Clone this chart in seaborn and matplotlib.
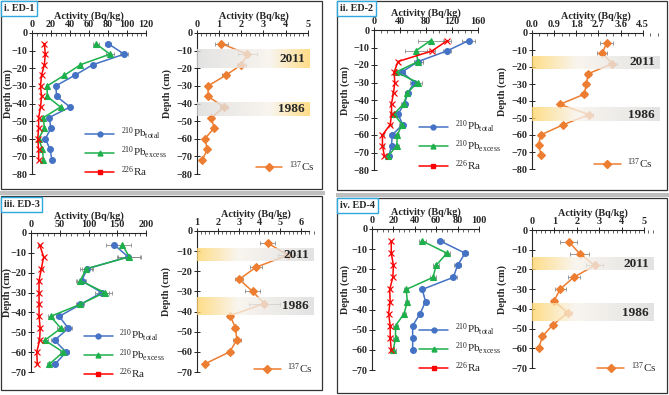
import matplotlib
matplotlib.use("Agg")
import matplotlib.pyplot as plt
import numpy as np
import seaborn as sns
from matplotlib.lines import Line2D
from matplotlib.patches import Rectangle
from matplotlib.ticker import AutoMinorLocator, MultipleLocator

# ---- data ----
depth_ed1 = [-6, -12, -18, -24, -30, -36, -42, -48, -54, -60, -66, -72]
ed1_pb_total = [80, 97, 64, 45, 25, 26, 40, 18, 20, 14, 19, 21]
ed1_pb_total_err = [3, 4, 2, 1, 1, 1, 1, 1, 1, 1, 1, 1]
ed1_pb_excess = [67, 82, 51, 34, 16, 16, 30, 12, 13, 7, 11, 12]
ed1_pb_excess_err = [3, 4, 2, 1, 1, 1, 1, 1, 1, 1, 1, 1]
ed1_ra = [13, 14, 13, 10, 9, 10, 9, 7, 7, 6, 7, 7]
ed1_ra_err = [1, 1, 1, 1, 1, 1, 1, 1, 1, 1, 1, 1]
ed1_cs = [1.1, 2.27, 2.0, 1.3, 0.5, 0.5, 1.22, 0.65, 0.77, 0.35, 0.47, 0.24]
ed1_cs_err = [0.3, 0.42, 0.2, 0.15, 0.05, 0.05, 0.2, 0.05, 0.05, 0.05, 0.05, 0.05]
ed1_bands = [("2011", -9.5, -20), ("1986", -39.5, -47)]

depth_ed2 = [-6, -12, -18, -24, -30, -36, -42, -48, -54, -60, -66, -72]
ed2_pb_total = [146, 112, 68, 43, 62, 52, 47, 37, 44, 28, 27, 23]
ed2_pb_total_err = [10, 6, 7, 4, 7, 4, 4, 3, 4, 3, 3, 3]
ed2_pb_excess = [87, 64, 68, 34, 67, 51, 46, 31, 43, 36, 35, 22]
ed2_pb_excess_err = [19, 17, 7, 4, 7, 4, 4, 3, 4, 3, 3, 3]
ed2_ra = [113, 89, 37, 31, 32, 30, 27, 27, 25, 13, 13, 16]
ed2_ra_err = [6, 5, 2, 2, 2, 2, 2, 2, 2, 2, 2, 2]
ed2_cs = [3.03, 2.85, 3.27, 2.28, 2.21, 2.12, 1.13, 2.32, 1.26, 0.35, 0.27, 0.38]
ed2_cs_err = [0.25, 0.2, 0.2, 0.12, 0.12, 0.12, 0.05, 0.15, 0.05, 0.05, 0.05, 0.05]
ed2_bands = [("2011", -13.5, -21), ("1986", -44, -52)]

depth_ed3 = [-6, -12, -18, -24, -30, -36, -42, -48, -54, -60, -66]
ed3_pb_total = [145, 169, 98, 88, 123, 86, 49, 65, 41, 61, 42]
ed3_pb_total_err = [15, 20, 10, 8, 12, 6, 5, 6, 6, 5, 4]
ed3_pb_excess = [159, 171, 96, 86, 128, 85, 34, 52, 24, 56, 32]
ed3_pb_excess_err = [15, 20, 10, 8, 12, 6, 5, 6, 6, 5, 4]
ed3_ra = [15, 22, 18, 14, 14, 14, 14, 16, 15, 10, 11]
ed3_ra_err = [2, 2, 2, 2, 2, 2, 2, 2, 2, 2, 2]
ed3_cs = [4.4, 5.36, 3.83, 3.03, 3.67, 4.23, 2.6, 2.84, 2.92, 2.57, 1.37]
ed3_cs_err = [0.35, 0.45, 0.3, 0.2, 0.35, 0.75, 0.15, 0.15, 0.2, 0.15, 0.05]
ed3_bands = [("2011", -9, -15), ("1986", -33, -41.5)]

depth_ed4 = [-6, -12, -18, -24, -30, -36, -42, -48, -54, -60]
ed4_pb_total = [64, 87, 80, 76, 47, 50, 45, 38, 38, 38]
ed4_pb_total_err = [3, 3, 3, 3, 2, 2, 2, 2, 2, 2]
ed4_pb_excess = [47, 70, 60, 57, 32, 33, 30, 22, 22, 20]
ed4_pb_excess_err = [3, 3, 3, 3, 2, 2, 2, 2, 2, 2]
ed4_ra = [18, 18, 20, 19.5, 16.5, 17, 15.5, 17, 17, 18]
ed4_ra_err = [1, 1, 1, 1, 1, 1, 1, 1, 1, 1]
ed4_cs = [1.65, 2.13, 2.8, 1.86, 1.26, 0.98, 1.6, 0.94, 0.46, 0.3]
ed4_cs_err = [0.38, 0.42, 0.38, 0.27, 0.25, 0.15, 0.18, 0.15, 0.12, 0.05]
ed4_bands = [("2011", -14, -20.3), ("1986", -37.5, -46.3)]

panel_titles = ["i. ED-1", "ii. ED-2", "iii. ED-3", "iv. ED-4"]

W, H = 669, 395
C_BLUE, C_GREEN, C_RED, C_ORANGE = "#4472C4", "#1DB04B", "#FF0000", "#ED7D31"
C_ERR = "#8C8C8C"

sns.set_style("ticks")
plt.rcParams["font.family"] = ["Liberation Serif", "DejaVu Serif"]
plt.rcParams["mathtext.fontset"] = "custom"
plt.rcParams["mathtext.rm"] = "Liberation Serif"
plt.rcParams["mathtext.it"] = "Liberation Serif:italic"
plt.rcParams["mathtext.bf"] = "Liberation Serif:bold"

fig = plt.figure(figsize=(W / 100, H / 100), dpi=100)


def px_axes(left, top, right, bottom):
	return fig.add_axes([left / W, 1 - bottom / H, (right - left) / W, (bottom - top) / H])


def frame(left, top, right, bottom, **kw):
	fig.add_artist(Rectangle((left / W, 1 - bottom / H), (right - left) / W, (bottom - top) / H,
		transform=fig.transFigure, **kw))


def style_axes(ax, xlim, ylim, xstep, nminor, bounds, ylab_off):
	ax.set_xlim(*xlim)
	ax.set_ylim(*ylim)
	ax.xaxis.tick_top()
	ax.xaxis.set_label_position("top")
	ax.xaxis.set_major_locator(MultipleLocator(xstep))
	ax.xaxis.set_minor_locator(AutoMinorLocator(nminor))
	ax.yaxis.set_major_locator(MultipleLocator(10))
	for s in ["bottom", "right"]:
		ax.spines[s].set_visible(False)
	ax.spines["top"].set_bounds(*bounds)
	ax.spines["top"].set_linewidth(0.8)
	ax.spines["left"].set_linewidth(0.8)
	ax.tick_params(axis="both", which="major", direction="inout", length=4, width=0.7,
		labelsize=7.3, pad=1.2)
	ax.tick_params(axis="x", which="minor", direction="in", length=2, width=0.5)
	for lab in ax.get_xticklabels() + ax.get_yticklabels():
		lab.set_fontweight("bold")
	ax.set_xlabel("Activity (Bq/kg)", fontsize=7.3, fontweight="bold", labelpad=0.5)
	ax.set_ylabel("Depth (cm)", fontsize=7.3, fontweight="bold")
	pos = ax.get_position()
	# label coords give the right-hand edge of the rotated label
	ax.yaxis.set_label_coords(-ylab_off / (pos.width * W), 0.57)
	ax.set_facecolor("none")


def series(ax, x, err, depth, color, marker, ms):
	sns.lineplot(x=x, y=depth, ax=ax, orient="y", estimator=None, sort=False, color=color,
		marker=marker, markersize=ms, markeredgecolor=color, markeredgewidth=0.8,
		linewidth=1.1, zorder=2)
	ax.errorbar(x, depth, xerr=err, fmt="none", ecolor=C_ERR, elinewidth=0.6, capsize=1.5,
		capthick=0.6, zorder=1)


def band(ax, y0, y1, year, yellow_left):
	x0, x1 = ax.get_xlim()
	t = np.linspace(0, 1, 256)
	yellow = np.array([1.0, 0.83, 0.40])
	mid = np.array([0.97, 0.95, 0.92])
	gray = np.array([0.86, 0.86, 0.86])
	cols = np.where(t[:, None] < 0.35, yellow + (mid - yellow) * (t[:, None] / 0.35),
		mid + (gray - mid) * ((t[:, None] - 0.35) / 0.65))
	if not yellow_left:
		cols = cols[::-1]
	rgba = np.concatenate([cols, np.full((256, 1), 0.78)], axis=1)[None, :, :]
	ax.imshow(rgba, extent=[x0, x1, y1, y0], aspect="auto", zorder=3, interpolation="bilinear")
	width_px = ax.get_position().width * W
	ax.text(x1 - (x1 - x0) * 5 / width_px, (y0 + y1) / 2, year, ha="right", va="center",
		fontsize=9.5, fontweight="bold", zorder=4)
	ax.set_xlim(x0, x1)


def pb_panel(ax, depth, tot, tot_e, exc, exc_e, ra, ra_e, leg_anchor):
	series(ax, tot, tot_e, depth, C_BLUE, "o", 4.2)
	series(ax, exc, exc_e, depth, C_GREEN, "^", 4.2)
	series(ax, ra, ra_e, depth, C_RED, "x", 4.2)
	handles = [
		Line2D([], [], color=C_BLUE, marker="o", ms=3.5, lw=1.1),
		Line2D([], [], color=C_GREEN, marker="^", ms=3.5, lw=1.1),
		Line2D([], [], color=C_RED, marker="s", ms=3.0, lw=1.1),
	]
	labels = [r"$^{210}\mathrm{Pb}_{\mathrm{total}}$", r"$^{210}\mathrm{Pb}_{\mathrm{excess}}$",
		r"$^{226}\mathrm{Ra}$"]
	ax.legend(handles, labels, loc="lower left", bbox_to_anchor=leg_anchor, frameon=False,
		fontsize=8, handlelength=2.6, handletextpad=0.6, labelspacing=0.3, borderaxespad=0)


def cs_panel(ax, depth, cs, cs_e, bands, yellow_left, leg_anchor):
	series(ax, cs, cs_e, depth, C_ORANGE, "D", 3.6)
	for year, y0, y1 in bands:
		band(ax, y0, y1, year, yellow_left)
	h = [Line2D([], [], color=C_ORANGE, marker="D", ms=3.6, lw=1.1)]
	ax.legend(h, [r"$^{137}\mathrm{Cs}$"], loc="lower left", bbox_to_anchor=leg_anchor,
		frameon=False, fontsize=8, handlelength=2.4, handletextpad=0.6, borderaxespad=0)


# ---- panel frames ----
frame(1, 1, 322, 189, fill=False, edgecolor="#333333", lw=0.9)
frame(337, 1, 667, 190, fill=False, edgecolor="#333333", lw=0.9)
frame(1, 196, 322, 390, fill=False, edgecolor="#333333", lw=0.9)
frame(337, 198, 667, 393, fill=False, edgecolor="#333333", lw=0.9)
frame(0, 191, 325, 195, fill=True, facecolor="#BFBFBF", edgecolor="none")
frame(336, 193, 669, 197, fill=True, facecolor="#BFBFBF", edgecolor="none")

# ---- ED-1 ----
ax = px_axes(32, 33, 146, 174)
pb_panel(ax, depth_ed1, ed1_pb_total, ed1_pb_total_err, ed1_pb_excess, ed1_pb_excess_err,
	ed1_ra, ed1_ra_err, (0.43, -0.07))
style_axes(ax, (0, 120), (-80, 0), 20, 4, (0, 120), 19)
ax = px_axes(197, 33, 310, 174)
ax.set_xlim(0, 5.1)
ax.set_ylim(-80, 0)
cs_panel(ax, depth_ed1, ed1_cs, ed1_cs_err, ed1_bands, False, (0.48, -0.03))
style_axes(ax, (0, 5.1), (-80, 0), 1, 5, (0, 5), 25)

# ---- ED-2 ----
ax = px_axes(374, 30, 478, 170)
pb_panel(ax, depth_ed2, ed2_pb_total, ed2_pb_total_err, ed2_pb_excess, ed2_pb_excess_err,
	ed2_ra, ed2_ra_err, (0.39, -0.05))
style_axes(ax, (0, 160), (-80, 0), 40, 4, (0, 160), 24)
ax = px_axes(532, 33, 660, 169)
ax.set_xlim(0, 5.2)
ax.set_ylim(-80, 0)
cs_panel(ax, depth_ed2, ed2_cs, ed2_cs_err, ed2_bands, True, (0.45, -0.05))
style_axes(ax, (0, 5.2), (-80, 0), 0.9, 3, (0, 4.5), 25)

# ---- ED-3 ----
ax = px_axes(31, 233, 146, 372)
pb_panel(ax, depth_ed3, ed3_pb_total, ed3_pb_total_err, ed3_pb_excess, ed3_pb_excess_err,
	ed3_ra, ed3_ra_err, (0.42, -0.1))
style_axes(ax, (0, 200), (-70, 0), 50, 5, (0, 200), 19)
ax = px_axes(197, 231, 314, 372)
ax.set_xlim(1, 6.62)
ax.set_ylim(-70, 0)
cs_panel(ax, depth_ed3, ed3_cs, ed3_cs_err, ed3_bands, True, (0.45, -0.06))
style_axes(ax, (1, 6.62), (-70, 0), 1, 5, (1, 6.4), 26)

# ---- ED-4 ----
ax = px_axes(372, 229, 479, 370)
pb_panel(ax, depth_ed4, ed4_pb_total, ed4_pb_total_err, ed4_pb_excess, ed4_pb_excess_err,
	ed4_ra, ed4_ra_err, (0.4, -0.07))
style_axes(ax, (0, 100), (-70, 0), 20, 4, (0, 100), 22)
ax = px_axes(532, 230, 654, 368)
ax.set_xlim(0, 5.45)
ax.set_ylim(-70, 0)
cs_panel(ax, depth_ed4, ed4_cs, ed4_cs_err, ed4_bands, True, (0.5, -0.08))
style_axes(ax, (0, 5.45), (-70, 0), 1, 5, (0, 5), 25)

# ---- panel title boxes ----
for title, (x, y) in zip(panel_titles, [(4, 4), (340, 4), (4, 200), (340, 201)]):
	fig.text(x / W, 1 - y / H, title, ha="left", va="top", fontsize=7.3, fontweight="bold",
		bbox=dict(boxstyle="square,pad=0.25", facecolor="white", edgecolor="#2FA8E0", lw=1.0))

fig.savefig("out.png", dpi=100)
